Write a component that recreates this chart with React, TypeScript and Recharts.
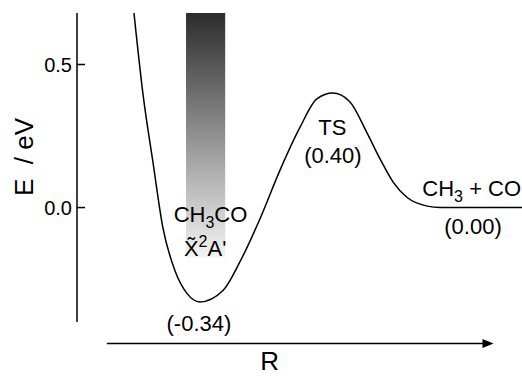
import {
  ComposedChart,
  Line,
  ReferenceArea,
  ReferenceDot,
  ReferenceLine,
  XAxis,
  YAxis,
} from "recharts";

// reaction coordinate (arbitrary units) and energy (eV)
const rCoord = [1.28, 1.48, 1.71, 1.93, 2.2, 2.47, 2.76, 3.28, 3.66, 4.11, 4.56, 5.01, 5.39, 5.75, 6.13, 6.52, 6.81, 7.1, 7.42, 7.87, 8.16, 10];
const energy = [0.68, 0.4, 0.155, -0.07, -0.22, -0.3, -0.33, -0.29, -0.19, -0.04, 0.13, 0.28, 0.38, 0.4, 0.37, 0.26, 0.17, 0.09, 0.035, 0.005, 0, 0];
const yTicks = [0, 0.5];

const curve = rCoord.map((r, i) => ({ r, e: energy[i] }));

// annotation anchors, in data units (text baseline, centred)
const notes = [
  { id: "well", r: 3.0, e: -0.052 },
  { id: "state", r: 2.88, e: -0.17 },
  { id: "wellE", r: 2.74, e: -0.43 },
  { id: "ts", r: 5.74, e: 0.255 },
  { id: "tsE", r: 5.75, e: 0.157 },
  { id: "prod", r: 8.87, e: 0.042 },
  { id: "prodE", r: 8.9, e: -0.091 },
  { id: "axisR", r: 4.33, e: -0.568 },
];

const FONT = "'Liberation Sans', Arial, Helvetica, sans-serif";
const INK = "#000";

function noteContent(id: string) {
  switch (id) {
    case "well":
      return (
        <>
          CH<tspan fontSize={16} dy={6}>3</tspan>
          <tspan dy={-6}>CO</tspan>
        </>
      );
    case "state":
      return (
        <>
          {"X\u0303"}
          <tspan fontSize={16} dy={-9}>2</tspan>
          <tspan dy={9}>A'</tspan>
        </>
      );
    case "wellE":
      return "(-0.34)";
    case "ts":
      return "TS";
    case "tsE":
      return "(0.40)";
    case "prod":
      return (
        <>
          CH<tspan fontSize={16} dy={6}>3</tspan>
          <tspan dy={-6}>{" + CO"}</tspan>
        </>
      );
    case "prodE":
      return "(0.00)";
    default:
      return "R";
  }
}

function YTick({ x, y, payload }: any) {
  return (
    <g>
      <line x1={x} x2={x + 8} y1={y} y2={y} stroke={INK} strokeWidth={1.5} />
      <text x={x - 5} y={y + 7} textAnchor="end" fontSize={20} fontFamily={FONT} fill={INK}>
        {Number(payload.value).toFixed(1)}
      </text>
    </g>
  );
}

function Arrow({ x1, y1, x2 }: any) {
  return (
    <g>
      <line x1={x1} y1={y1} x2={x2 - 6} y2={y1} stroke={INK} strokeWidth={1.5} />
      <path d={`M${x2},${y1} L${x2 - 11},${y1 - 4.5} L${x2 - 11},${y1 + 4.5} Z`} fill={INK} />
    </g>
  );
}

export default function App() {
  return (
    <div style={{ position: "absolute", left: 0, top: 0, width: 522, height: 378, background: "#fff" }}>
      <ComposedChart width={522} height={378} margin={{ top: 13, right: 0, bottom: 56, left: 17 }}>
        <defs>
          <linearGradient id="bandFill" x1="0" y1="0" x2="0" y2="1">
            <stop offset="0%" stopColor="#2c2c2c" />
            <stop offset="100%" stopColor="#f4f4f4" />
          </linearGradient>
        </defs>
        <XAxis type="number" dataKey="r" domain={[0, 10]} allowDataOverflow hide />
        <YAxis
          type="number"
          domain={[-0.4, 0.68]}
          allowDataOverflow
          ticks={yTicks}
          interval={0}
          width={60}
          tickSize={0}
          tickMargin={0}
          tickLine={false}
          tick={<YTick />}
          axisLine={{ stroke: INK, strokeWidth: 1.5 }}
          label={{
            content: () => (
              <text
                x={33}
                y={157}
                transform="rotate(-90, 33, 157)"
                textAnchor="middle"
                fontSize={26}
                fontFamily={FONT}
                fill={INK}
                style={{ whiteSpace: "pre" }}
              >
                {"E  / eV"}
              </text>
            ),
          }}
        />
        <ReferenceArea
          x1={2.45}
          x2={3.33}
          y1={-0.175}
          y2={0.68}
          fill="url(#bandFill)"
          fillOpacity={1}
          stroke="none"
          ifOverflow="visible"
        />
        <Line
          type="monotone"
          data={curve}
          dataKey="e"
          stroke={INK}
          strokeWidth={1.5}
          dot={false}
          isAnimationActive={false}
        />
        <ReferenceLine
          segment={[
            { x: 0.67, y: -0.4755 },
            { x: 9.36, y: -0.4755 },
          ]}
          ifOverflow="visible"
          stroke={INK}
          shape={(p: any) => <Arrow {...p} />}
        />
        {notes.map((n) => (
          <ReferenceDot
            key={n.id}
            x={n.r}
            y={n.e}
            r={0}
            ifOverflow="visible"
            shape={(p: any) => (
              <text
                x={p.cx}
                y={p.cy}
                textAnchor="middle"
                fontSize={n.id === "axisR" ? 26 : 22}
                fontFamily={FONT}
                fill={INK}
                style={{ whiteSpace: "pre" }}
              >
                {noteContent(n.id)}
              </text>
            )}
          />
        ))}
      </ComposedChart>
    </div>
  );
}
